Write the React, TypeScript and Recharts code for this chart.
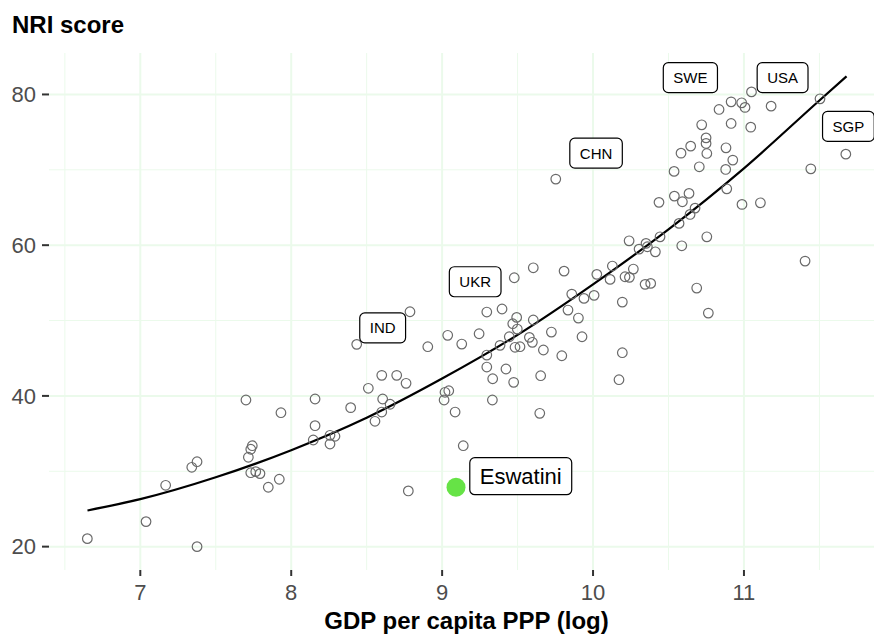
import { ComposedChart, XAxis, YAxis, CartesianGrid, Scatter, Line } from 'recharts';

const FONT = "'Liberation Sans', Arial, sans-serif";

// GDP per capita PPP (log) and NRI score, one entry per country
const gdpLog = [
  11.05, 10.915, 10.985, 11.007, 10.835, 11.18, 11.504, 10.72, 10.915, 11.045,
  10.749, 10.749, 10.647, 10.881, 10.583, 10.754, 10.926, 10.704, 10.537, 10.879,
  11.443, 11.675, 10.886, 10.539, 10.636, 10.592, 10.437, 10.987, 11.109, 10.676,
  10.643, 10.57, 10.239, 10.351, 10.444, 10.588, 10.754, 10.305, 10.36, 10.413,
  10.128, 10.267, 10.113, 10.212, 10.241, 10.345, 10.382, 10.687, 10.194, 10.764,
  11.405, 10.194, 10.172, 8.787, 8.434, 9.037, 8.905, 9.13, 9.245, 9.296,
  9.397, 9.478, 9.604, 9.808, 10.025, 9.859, 9.94, 10.007, 9.834, 9.903,
  9.927, 9.724, 9.604, 9.494, 9.468, 9.498, 9.445, 9.384, 9.483, 9.516,
  9.578, 9.598, 9.671, 9.793, 9.296, 9.296, 9.423, 9.335, 9.474, 9.653,
  9.333, 9.647, 8.6, 8.699, 8.761, 8.511, 8.158, 8.606, 8.655, 8.394,
  8.6, 8.555, 8.158, 9.019, 9.044, 9.013, 9.086, 8.257, 8.29, 8.146,
  8.257, 9.14, 8.776, 6.649, 7.038, 7.376, 7.168, 7.341, 7.376, 7.742,
  7.732, 7.716, 7.732, 7.765, 7.793, 7.848, 7.921, 7.7, 7.932, 9.753,
];
const nriScore = [
  80.34, 79.02, 78.89, 78.28, 78.01, 78.45, 79.42, 75.97, 76.15, 75.66,
  74.24, 73.5, 73.14, 72.92, 72.21, 72.17, 71.29, 70.4, 69.79, 70.05,
  70.13, 72.08, 67.48, 66.51, 66.87, 65.76, 65.68, 65.41, 65.62, 64.92,
  64.08, 62.89, 60.58, 60.24, 61.11, 59.92, 61.11, 59.48, 59.79, 59.12,
  57.23, 56.83, 55.46, 55.81, 55.73, 54.8, 54.93, 54.31, 52.45, 50.99,
  57.89, 45.73, 42.15, 51.17, 46.84, 48.04, 46.53, 46.88, 48.25, 51.13,
  51.53, 55.68, 57.0, 56.56, 56.13, 53.51, 52.94, 53.34, 51.39, 50.33,
  47.85, 48.47, 50.07, 50.42, 49.58, 48.87, 47.85, 46.71, 46.45, 46.53,
  47.77, 47.11, 46.09, 45.33, 45.42, 43.83, 43.57, 42.28, 41.8, 42.68,
  39.46, 37.69, 42.73, 42.73, 41.67, 41.01, 39.59, 39.59, 38.89, 38.44,
  37.86, 36.63, 36.05, 40.48, 40.69, 39.46, 37.86, 34.77, 34.64, 34.15,
  33.62, 33.39, 27.39, 21.06, 23.32, 20.0, 28.14, 30.53, 31.27, 33.39,
  32.92, 31.86, 29.81, 29.95, 29.69, 27.88, 28.94, 39.46, 37.77, 68.77,
];

// fitted trend
const fitX = [6.65, 7.0, 7.5, 8.0, 8.5, 9.0, 9.5, 10.0, 10.5, 11.0, 11.5, 11.68];
const fitY = [24.8, 26.3, 29.2, 32.8, 37.1, 42.3, 48.1, 54.8, 62.1, 70.2, 79.2, 82.4];

// highlighted country
const highlightName = 'Eswatini';
const highlightX = 9.092;
const highlightY = 27.88;

// label boxes (centre of each box)
const labelNames = ['SWE', 'USA', 'SGP', 'CHN', 'UKR', 'IND', 'Eswatini'];
const labelX = [10.645, 11.256, 11.692, 10.02, 9.219, 8.606, 9.521];
const labelY = [82.23, 82.23, 75.76, 72.21, 55.15, 49.03, 29.35];

const xTicks = [7, 8, 9, 10, 11];
const xMinor = [6.5, 7.5, 8.5, 9.5, 10.5, 11.5];
const yTicks = [20, 40, 60, 80];
const yMinor = [30, 50, 70];

const points = gdpLog.map((x, i) => ({ x, y: nriScore[i] }));
const fitLine = fitX.map((x, i) => ({ x, y: fitY[i] }));
const highlight = [{ x: highlightX, y: highlightY }];
const labels = labelNames.map((name, i) => ({ name, x: labelX[i], y: labelY[i] }));

let ctx: CanvasRenderingContext2D | null = null;
function textWidth(t: string, size: number) {
  if (!ctx) ctx = document.createElement('canvas').getContext('2d');
  if (!ctx) return t.length * size * 0.65;
  ctx.font = `${size}px ${FONT}`;
  return ctx.measureText(t).width;
}

const HollowDot = (props: any) => {
  const { cx, cy } = props;
  if (cx == null || cy == null) return null;
  return <circle cx={cx} cy={cy} r={4.8} fill="none" stroke="#6a6a6a" strokeWidth={1.2} />;
};

const GreenDot = (props: any) => {
  const { cx, cy } = props;
  if (cx == null || cy == null) return null;
  return <circle cx={cx} cy={cy} r={9.5} fill="#66e346" />;
};

const LabelBox = (props: any) => {
  const { cx, cy, payload } = props;
  if (cx == null || cy == null) return null;
  const big = payload.name === highlightName;
  const fs = big ? 22 : 15;
  const w = textWidth(payload.name, fs) + 20;
  const h = big ? 37 : 30;
  return (
    <g>
      <rect x={cx - w / 2} y={cy - h / 2} width={w} height={h} rx={5} fill="#fff" stroke="#000" strokeWidth={1.2} />
      <text x={cx} y={cy} dy="0.36em" textAnchor="middle" fontSize={fs} fontFamily={FONT} fill="#000">
        {payload.name}
      </text>
    </g>
  );
};

export default function App() {
  return (
    <div style={{ position: 'absolute', left: 0, top: 0, width: 874, height: 635, overflow: 'hidden', background: '#fff' }}>
      <ComposedChart width={884} height={635} margin={{ top: 53, right: 0, bottom: 0, left: 0 }}>
        <CartesianGrid verticalValues={xMinor} horizontalValues={yMinor} stroke="#ebfaeb" strokeWidth={1} />
        <CartesianGrid verticalValues={xTicks} horizontalValues={yTicks} stroke="#ebfaeb" strokeWidth={2} />
        <XAxis
          type="number"
          dataKey="x"
          domain={[6.395, 11.928]}
          allowDataOverflow
          ticks={xTicks}
          height={65}
          axisLine={false}
          tickSize={6}
          tickMargin={8}
          tickLine={{ stroke: '#333', strokeWidth: 2 }}
          tick={{ fill: '#4d4d4d', fontSize: 22, fontFamily: FONT }}
        />
        <YAxis
          type="number"
          dataKey="y"
          domain={[16.9, 85.5]}
          allowDataOverflow
          ticks={yTicks}
          width={49}
          axisLine={false}
          tickSize={7}
          tickMargin={6}
          tickLine={{ stroke: '#333', strokeWidth: 2 }}
          tick={{ fill: '#4d4d4d', fontSize: 22, fontFamily: FONT }}
        />
        <Scatter data={points} dataKey="y" shape={<HollowDot />} isAnimationActive={false} />
        <Line data={fitLine} dataKey="y" type="monotone" stroke="#000" strokeWidth={2.2} dot={false} activeDot={false} isAnimationActive={false} />
        <Scatter data={highlight} dataKey="y" shape={<GreenDot />} isAnimationActive={false} />
        <Scatter data={labels} dataKey="y" shape={<LabelBox />} isAnimationActive={false} />
      </ComposedChart>
      <div style={{ position: 'absolute', left: 12, top: 13, fontFamily: FONT, fontWeight: 'bold', fontSize: 24, lineHeight: '24px', color: '#000' }}>
        NRI score
      </div>
      <div style={{ position: 'absolute', left: 49, width: 835, top: 609, textAlign: 'center', fontFamily: FONT, fontWeight: 'bold', fontSize: 24, lineHeight: '24px', color: '#000', whiteSpace: 'nowrap' }}>
        GDP per capita PPP (log)
      </div>
    </div>
  );
}
